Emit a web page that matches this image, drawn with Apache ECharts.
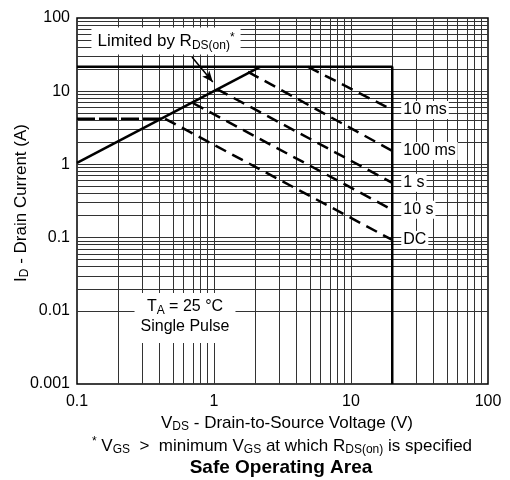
<!DOCTYPE html>
<html>
<head>
<meta charset="utf-8">
<script src="https://cdn.jsdelivr.net/npm/echarts@6/dist/echarts.min.js"></script>
<style>html,body{margin:0;padding:0;background:#fff;}#chart{width:510px;height:480px;}</style>
</head>
<body>
<div id="chart"></div>
<script>
// ---- data ----
const xTickValues = [0.1, 1, 10, 100];
const yTickValues = [0.001, 0.01, 0.1, 1, 10, 100];
const xGridValues = [0.2,0.3,0.4,0.5,0.6,0.7,0.8,0.9,1,2,3,4,5,6,7,8,9,10,20,30,40,50,60,70,80,90];
const yGridValues = [0.002,0.003,0.004,0.005,0.006,0.007,0.008,0.009,0.01,0.02,0.03,0.04,0.05,0.06,0.07,0.08,0.09,0.1,0.2,0.3,0.4,0.5,0.6,0.7,0.8,0.9,1,2,3,4,5,6,7,8,9,10,20,30,40,50,60,70,80,90];

const rdsLimitV = [0.1, 2.17];
const rdsLimitI = [1.05, 21.5];
const boundaryV = [0.1, 20, 20];
const boundaryI = [21.5, 21.5, 0.001];
const dcFlatV = [0.1, 0.44];
const dcFlatI = [4.2, 4.2];
const pulseNames = ['10 ms', '100 ms', '1 s', '10 s', 'DC'];
const pulseStartV = [4.86, 1.77, 1.05, 0.70, 0.44];
const pulseStartI = [21.5, 18.4, 10.7, 6.9, 4.2];
const pulseEndV = [20, 20, 20, 20, 20];
const pulseEndI = [5.55, 1.53, 0.56, 0.24, 0.093];
const arrowV = [0.69, 0.98];
const arrowI = [29.4, 13.4];

const FONT = '"Liberation Sans", Arial, Helvetica, sans-serif';
const zip = (a, b) => a.map((v, i) => [v, b[i]]);

const series = [];
// grid lines carrier
series.push({
  type: 'line', z: 1, silent: true, symbol: 'none',
  data: [[1, 1]], lineStyle: {opacity: 0},
  markLine: {
    silent: true, symbol: ['none', 'none'], animation: false,
    label: {show: false},
    lineStyle: {color: '#333', width: 1, type: 'solid'},
    data: xGridValues.map(v => ({xAxis: v})).concat(yGridValues.map(v => ({yAxis: v})))
  }
});
series.push({
  type: 'line', z: 5, symbol: 'none', data: zip(rdsLimitV, rdsLimitI),
  lineStyle: {color: '#000', width: 2.5}
});
series.push({
  type: 'line', z: 5, symbol: 'none', data: zip(boundaryV, boundaryI),
  lineStyle: {color: '#000', width: 2.5}
});
series.push({
  type: 'line', z: 5, symbol: 'none', data: zip(dcFlatV, dcFlatI),
  lineStyle: {color: '#000', width: 2.5, type: [18, 4]}
});
pulseNames.forEach((n, i) => {
  series.push({
    type: 'line', z: 5, name: n, symbol: 'none',
    data: [[pulseStartV[i], pulseStartI[i]], [pulseEndV[i], pulseEndI[i]]],
    lineStyle: {color: '#000', width: 2.5, type: [12, 7]},
    endLabel: {
      show: true, formatter: n, distance: 9, color: '#000',
      fontFamily: FONT, fontSize: 16, backgroundColor: '#fff', padding: [1, 2]
    }
  });
});
// arrow
series.push({
  type: 'line', z: 6, symbol: 'none', data: [],
  markLine: {
    silent: true, animation: false, symbol: ['none', 'arrow'], symbolSize: [7, 11],
    label: {show: false},
    lineStyle: {color: '#000', width: 1.5, type: 'solid'},
    data: [[{coord: [arrowV[0], arrowI[0]]}, {coord: [arrowV[1], arrowI[1]]}]]
  }
});

const richM = (fs) => ({fontFamily: FONT, fontSize: fs, lineHeight: 20, fill: '#000', verticalAlign: 'middle'});
const richS = {fontFamily: FONT, fontSize: 12, fill: '#000', verticalAlign: 'bottom'};
const richP = {fontFamily: FONT, fontSize: 12, fill: '#000', verticalAlign: 'top'};

const chart = echarts.init(document.getElementById('chart'));
chart.setOption({
  animation: false,
  backgroundColor: '#fff',
  grid: {left: 77, right: 22, top: 18, bottom: 96, show: true, borderColor: '#000', borderWidth: 1.5, backgroundColor: 'transparent'},
  xAxis: {
    type: 'log', logBase: 10, min: 0.1, max: 100,
    axisLine: {show: false}, axisTick: {show: false}, splitLine: {show: false},
    axisLabel: {color: '#000', fontFamily: FONT, fontSize: 16, margin: 10,
      formatter: v => String(xTickValues.find(t => Math.abs(Math.log10(t) - Math.log10(v)) < 1e-6) ?? v)}
  },
  yAxis: {
    type: 'log', logBase: 10, min: 0.001, max: 100,
    axisLine: {show: false}, axisTick: {show: false}, splitLine: {show: false},
    axisLabel: {color: '#000', fontFamily: FONT, fontSize: 16, margin: 7,
      formatter: v => String(yTickValues.find(t => Math.abs(Math.log10(t) - Math.log10(v)) < 1e-6) ?? v)}
  },
  series: series,
  graphic: [
    {
      type: 'text', z: 100, x: 166, y: 41,
      style: {
        text: '{m|Limited by R}{s|DS(on)}{p|*}',
        align: 'center', verticalAlign: 'middle',
        backgroundColor: '#fff', padding: [4, 6, 3, 6],
        rich: {m: richM(17), s: richS, p: richP}
      }
    },
    {
      type: 'text', z: 100, x: 185, y: 318,
      style: {
        text: '{m|T}{s|A}{m| = 25 °C}\n{m|Single Pulse}',
        align: 'center', verticalAlign: 'middle',
        backgroundColor: '#fff', padding: [4, 6, 6, 6],
        rich: {m: richM(16), s: richS}
      }
    },
    {
      type: 'text', z: 100, x: 21, y: 203, rotation: Math.PI / 2,
      style: {
        text: '{m|I}{s|D}{m| - Drain Current (A)}',
        align: 'center', verticalAlign: 'middle',
        rich: {m: richM(17), s: richS}
      }
    },
    {
      type: 'text', z: 100, x: 287, y: 423,
      style: {
        text: '{m|V}{s|DS}{m| - Drain-to-Source Voltage (V)}',
        align: 'center', verticalAlign: 'middle',
        rich: {m: richM(17), s: richS}
      }
    },
    {
      type: 'text', z: 100, x: 282, y: 446,
      style: {
        text: '{p|*}{m| V}{s|GS}{m|  >  minimum V}{s|GS}{m| at which R}{s|DS(on)}{m| is specified}',
        align: 'center', verticalAlign: 'middle',
        rich: {m: richM(17), s: richS, p: richP}
      }
    },
    {
      type: 'text', z: 100, x: 281, y: 468,
      style: {
        text: 'Safe Operating Area',
        align: 'center', verticalAlign: 'middle',
        fontFamily: FONT, fontSize: 19, fontWeight: 'bold', fill: '#000'
      }
    }
  ]
});
</script>
</body>
</html>
